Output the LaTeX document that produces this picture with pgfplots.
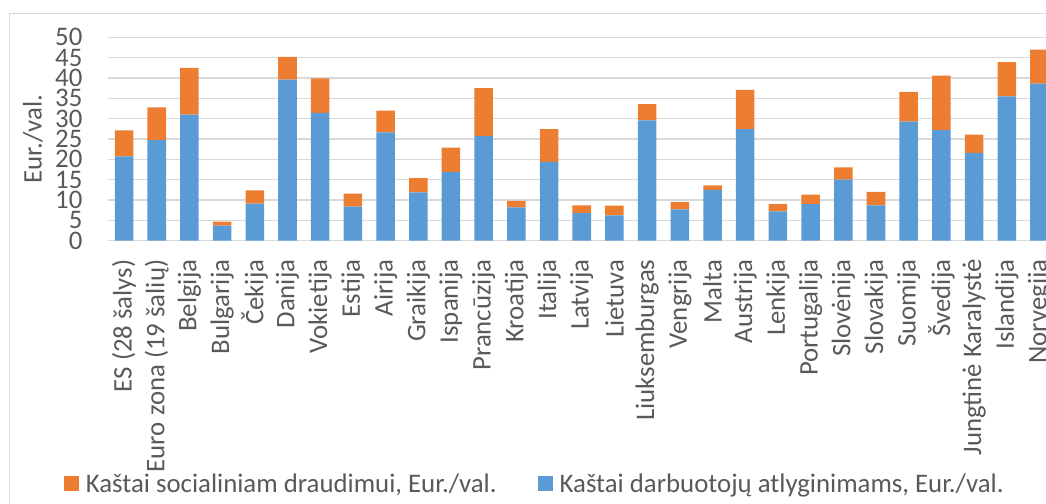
\documentclass[border=0pt]{standalone}
\usepackage{fontspec}
\setmainfont{Carlito}
\usepackage{pgfplots}
\usepackage{pgfplotstable}
\pgfplotsset{compat=1.18}
\definecolor{xlBlue}{HTML}{5B9BD5}
\definecolor{xlOrange}{HTML}{ED7D31}
\definecolor{xlGrid}{HTML}{D9D9D9}
\definecolor{xlText}{HTML}{595959}
\newcommand\lf{\fontsize{20.1}{24.1}\selectfont}

% idx, wages (blue), social insurance (orange), Eur./val.
\pgfplotstableread{
idx wage social
0  20.7 6.4
1  24.7 8.1
2  31.0 11.5
3  3.7  1.0
4  9.1  3.3
5  39.6 5.6
6  31.4 8.5
7  8.4  3.2
8  26.6 5.4
9  11.9 3.5
10 16.9 6.0
11 25.7 11.8
12 8.2  1.6
13 19.4 8.0
14 6.8  1.9
15 6.2  2.4
16 29.6 4.0
17 7.7  1.8
18 12.5 1.1
19 27.4 9.7
20 7.2  1.8
21 9.0  2.3
22 15.0 3.0
23 8.7  3.3
24 29.3 7.3
25 27.2 13.4
26 21.6 4.5
27 35.5 8.4
28 38.6 8.4
}\costs

\begin{document}
\begin{tikzpicture}
\begin{axis}[
  scale only axis, width=703.7pt, height=152.55pt,
  ybar stacked, bar width=13.9pt,
  xmin=-0.5, xmax=28.2, ymin=0, ymax=50,
  ytick={0,5,...,50}, xtick={0,...,28},
  xticklabels={ES (28 šalys),Euro zona (19 šalių),Belgija,Bulgarija,Čekija,Danija,Vokietija,Estija,Airija,Graikija,Ispanija,Prancūzija,Kroatija,Italija,Latvija,Lietuva,Liuksemburgas,Vengrija,Malta,Austrija,Lenkija,Portugalija,Slovėnija,Slovakija,Suomija,Švedija,Jungtinė Karalystė,Islandija,Norvegija},
  axis line style={draw=none}, major tick length=0,
  ymajorgrids, grid style={xlGrid, line width=0.8pt},
  clip=false,
  /pgf/number format/assume math mode=true,
  tick label style={font=\lf, text=xlText},
  yticklabel style={anchor=east, inner sep=0pt, xshift=-18.8pt},
  xticklabel style={rotate=90, anchor=east, inner xsep=14pt, inner ysep=0pt},
  ylabel={Eur./val.},
  ylabel style={font=\lf, text=xlText, at={(rel axis cs:-0.0796,0.5)}, anchor=center},
  reverse legend,
  legend columns=2,
  legend image code/.code={\fill[#1] (0pt,-5.5pt) rectangle (11.25pt,5.75pt);},
  legend style={at={(rel axis cs:-0.0466,-1.196)}, anchor=west, draw=none, fill=none,
    inner sep=0pt, font=\lf, text=xlText,
    nodes={inner xsep=5pt, inner ysep=0pt},
    /tikz/every even column/.append style={column sep=26pt}},
]
\addplot[fill=xlBlue, draw=none] table[x=idx, y=wage] {\costs};
\addplot[fill=xlOrange, draw=none] table[x=idx, y=social] {\costs};
\legend{Kaštai darbuotojų atlyginimams{,} Eur./val., Kaštai socialiniam draudimui{,} Eur./val.}
\draw[xlGrid, line width=1.1pt] (rel axis cs:-0.1047,-1.6) |- (rel axis cs:1.2,1.117);
\coordinate (bbSW) at (rel axis cs:-0.11478,-1.2896);
\coordinate (bbNE) at (rel axis cs:1,1.1834);
\end{axis}
\pgfresetboundingbox
\useasboundingbox (bbSW) rectangle (bbNE);
\end{tikzpicture}
\end{document}
